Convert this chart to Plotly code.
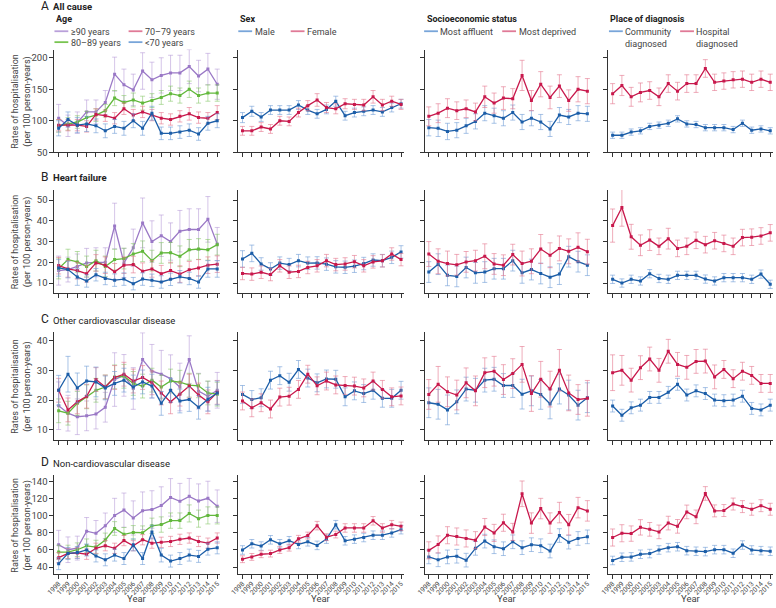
import plotly.graph_objects as go

W, H = 776, 608
years = list(range(1998, 2016))

# ---------------- A: All cause ----------------
a_age_ge90 = [104, 92, 97, 114, 114, 129, 174, 157, 149, 179, 165, 172, 176, 176, 186, 171, 182, 158]
a_age_80 = [92, 95, 98, 105, 109, 116, 136, 129, 133, 128, 132, 137, 143, 140, 150, 140, 144, 144]
a_age_70 = [93, 93, 93, 91, 110, 108, 104, 119, 109, 114, 109, 104, 102, 107, 111, 105, 104, 113]
a_age_lt70 = [88, 102, 93, 95, 92, 84, 91, 88, 100, 88, 112, 80, 80, 82, 85, 79, 96, 100]
a_sex_male = [105, 115, 106, 117, 117, 117, 125, 117, 111, 118, 131, 108, 113, 115, 117, 114, 121, 127]
a_sex_female = [84, 84, 90, 87, 100, 99, 113, 124, 133, 121, 119, 127, 126, 125, 138, 125, 131, 126]
a_ses_aff = [89, 88, 83, 85, 92, 99, 112, 108, 104, 113, 98, 104, 98, 87, 109, 106, 112, 111]
a_ses_dep = [107, 112, 120, 116, 119, 114, 138, 128, 136, 135, 172, 132, 158, 137, 155, 132, 150, 147]
a_place_comm = [77, 77, 82, 84, 91, 93, 96, 103, 95, 94, 89, 89, 89, 86, 96, 85, 87, 84]
a_place_hosp = [143, 156, 138, 145, 148, 138, 159, 147, 159, 159, 183, 161, 163, 165, 166, 161, 166, 161]

a_age_ge90_err = [22, 17, 17, 19, 19, 19, 27, 25, 25, 29, 28, 28, 28, 28, 27, 25, 25, 24]
a_age_80_err = [10, 10, 10, 10, 10, 10, 12, 11, 11, 11, 11, 11, 12, 12, 13, 12, 13, 13]
a_age_70_err = [9, 9, 9, 9, 9, 9, 9, 9, 9, 9, 9, 9, 9, 9, 10, 9, 9, 11]
a_age_lt70_err = [12, 12, 12, 12, 11, 11, 11, 11, 11, 11, 11, 10, 10, 10, 10, 10, 11, 11]
a_sex_male_err = [8, 8, 7, 7, 7, 7, 7, 7, 7, 7, 8, 7, 7, 7, 7, 7, 7, 7]
a_sex_female_err = [7, 7, 7, 7, 7, 7, 7, 8, 10, 8, 8, 8, 8, 9, 10, 9, 8, 8]
a_ses_aff_err = [13, 13, 13, 12, 12, 12, 12, 12, 12, 12, 12, 12, 12, 12, 12, 12, 12, 12]
a_ses_dep_err = [15, 15, 15, 14, 14, 14, 17, 16, 18, 16, 24, 16, 20, 18, 18, 17, 20, 20]
a_place_comm_err = [5, 5, 5, 5, 5, 5, 5, 5, 5, 5, 5, 5, 5, 5, 5, 5, 5, 5]
a_place_hosp_err = [16, 16, 15, 15, 14, 14, 14, 14, 14, 14, 14, 13, 13, 13, 13, 13, 13, 13]

# ---------------- B: Heart failure ----------------
b_age_ge90 = [16, 16.5, 18, 19.7, 20, 20, 37.5, 19.7, 27, 39, 30, 32.8, 30, 35, 35.8, 35.8, 40.7, 28.8]
b_age_80 = [17, 21.3, 20.2, 18, 20.8, 18, 21.3, 21.8, 24, 25.3, 20.8, 24.5, 24.6, 22.9, 26, 26.4, 26, 28.5]
b_age_70 = [18.4, 16.8, 16, 14.5, 19.7, 18.6, 15.4, 18.6, 18.9, 15.7, 16.8, 14.5, 16, 14.3, 16.4, 17.3, 18.6, 19.1]
b_age_lt70 = [17.3, 16.5, 12.9, 11, 14, 12.2, 11.4, 11.9, 9.7, 11.9, 11.3, 10.5, 11.8, 13, 12.2, 10.5, 16.8, 16.8]
b_sex_male = [21.6, 24.3, 19.2, 16.8, 19.6, 18.9, 20.8, 19.6, 19.7, 19.1, 17.8, 17.6, 18.1, 19.4, 21.1, 20.8, 22.4, 25]
b_sex_female = [14.6, 14.3, 15.2, 14.1, 18.3, 15.2, 15.6, 17.5, 18.3, 20.8, 18.9, 19.2, 20.3, 18.3, 20.2, 20.7, 24, 21.3]
b_ses_aff = [15.3, 19.1, 13.7, 13.2, 17.5, 14.9, 15.3, 16.9, 16.9, 20.8, 14.9, 16.5, 14.6, 12.8, 14.3, 22.7, 20.3, 18.6]
b_ses_dep = [24, 20.5, 19.4, 18.8, 20.2, 20.8, 22.9, 19.2, 18.6, 23.7, 19.4, 20.5, 26.4, 23.4, 26.7, 25.3, 27.2, 25.1]
b_place_comm = [11.8, 10, 11.8, 11, 14.5, 12.2, 11.8, 13.7, 13.7, 13.7, 11.9, 11, 12.6, 12.6, 12.6, 11.8, 14.3, 9.4]
b_place_hosp = [37.7, 46.4, 32.3, 28.2, 30.7, 27.7, 31.4, 26.7, 27.7, 30.6, 28.5, 30.4, 29.1, 27.7, 31.9, 32.1, 32.7, 34.2]

b_age_ge90_err = [7, 6, 6, 7, 7, 7, 11, 7, 9, 12, 10, 10, 9, 10, 10, 10, 11, 8]
b_age_80_err = [5, 5, 5, 5, 5, 5, 5, 5, 5, 5, 5, 5, 5, 5, 5, 5, 5, 5]
b_age_70_err = [4, 4, 4, 4, 4, 4, 4, 4, 4, 4, 4, 4, 4, 4, 4, 4, 4, 4]
b_age_lt70_err = [4, 4, 4, 3, 3, 3, 3, 3, 3, 3, 3, 3, 3, 3, 3, 3, 4, 4]
b_sex_male_err = [4, 4, 3, 3, 3, 3, 3, 3, 3, 3, 3, 3, 3, 3, 3, 3, 3, 3]
b_sex_female_err = [3, 3, 3, 3, 3, 3, 3, 3, 3, 3, 3, 3, 3, 3, 3, 3, 3, 3]
b_ses_aff_err = [5, 5, 5, 5, 5, 5, 5, 5, 5, 5, 5, 5, 5, 5, 5, 5, 5, 5]
b_ses_dep_err = [6, 6, 6, 5, 5, 5, 6, 5, 5, 5, 6, 6, 7, 6, 6, 6, 7, 6]
b_place_comm_err = [2, 2, 2, 2, 2, 2, 2, 2, 2, 2, 2, 2, 2, 2, 2, 2, 2, 2]
b_place_hosp_err = [8, 9, 6, 5, 5, 4, 5, 4, 4, 4, 4, 4, 4, 4, 4, 4, 4, 4]

# ---------------- C: Other cardiovascular disease ----------------
c_age_ge90 = [18.1, 15.6, 14.4, 14.7, 15.3, 17.6, 26.9, 28.3, 23.9, 33.6, 29.7, 28.7, 27.2, 24.4, 33.6, 23, 21.3, 23.3]
c_age_80 = [16.4, 15.6, 18.9, 21.1, 23.3, 24.4, 27.8, 28, 25.6, 24.7, 26.7, 24.4, 26.4, 26, 25, 24.8, 22.4, 22]
c_age_70 = [23.3, 16.7, 19.4, 21.3, 26.9, 24.4, 27.6, 28.7, 26.4, 27.6, 25.8, 22.4, 19.4, 22, 24.7, 21.7, 19.4, 22.6]
c_age_lt70 = [23.3, 28.7, 24.1, 26.4, 26.1, 24.1, 25.6, 26.7, 24.4, 26.1, 24.7, 18.9, 23.3, 19.7, 20.2, 17.6, 20.3, 22.4]
c_sex_male = [21.9, 20.2, 20.8, 26.7, 28.2, 26, 30.3, 27.4, 25.8, 27.1, 27, 21.1, 23.1, 22.2, 23.3, 20.6, 20.6, 23.3]
c_sex_female = [19.7, 17.4, 19.1, 17, 21, 21.3, 23.6, 28.7, 24.8, 26.4, 25.1, 24.9, 24.7, 24.1, 26.4, 23.6, 21.1, 21.4]
c_ses_aff = [19.1, 18.6, 16.7, 19.4, 23.7, 23.3, 26.7, 27, 24.9, 24.9, 22, 23.1, 21.9, 18.7, 23.7, 21.7, 18.3, 20.8]
c_ses_dep = [21.9, 25.3, 22.8, 21.7, 25.8, 23.1, 29.2, 29.7, 26.9, 28.9, 32, 22.2, 27, 23.7, 30, 22.4, 20.2, 20.6]
c_place_comm = [18, 14.9, 17.4, 18.3, 20.9, 20.9, 22.6, 25.3, 21.7, 23.1, 22.2, 20, 19.8, 20, 21.3, 17.2, 16.7, 18.3]
c_place_hosp = [29.2, 30, 26.7, 30.9, 33.8, 30, 36.4, 32, 31, 33, 33.1, 27.8, 30.3, 27.2, 29.7, 28.3, 25.6, 25.6]

c_age_ge90_err = [8, 6, 6, 5, 5, 5, 9, 7, 7, 9, 9, 8, 8, 8, 8, 6, 5, 6]
c_age_80_err = [4, 4, 4, 4, 4, 4, 4, 4, 4, 4, 4, 4, 4, 4, 4, 4, 4, 4]
c_age_70_err = [4, 4, 4, 4, 4, 4, 4, 4, 4, 4, 4, 4, 4, 4, 4, 4, 4, 4]
c_age_lt70_err = [5, 6, 5, 5, 5, 4, 4, 4, 4, 4, 4, 4, 4, 4, 4, 4, 4, 4]
c_sex_male_err = [3, 3, 3, 3, 3, 3, 3, 3, 3, 3, 3, 3, 3, 3, 3, 3, 3, 3]
c_sex_female_err = [3, 3, 3, 3, 3, 3, 3, 3, 3, 3, 3, 3, 3, 3, 3, 3, 3, 3]
c_ses_aff_err = [5, 5, 5, 4, 4, 4, 4, 4, 4, 4, 5, 5, 5, 5, 5, 5, 5, 5]
c_ses_dep_err = [5, 6, 5, 5, 5, 5, 5, 5, 5, 5, 6, 6, 6, 6, 7, 6, 5, 6]
c_place_comm_err = [2, 2, 2, 2, 2, 2, 2, 2, 2, 2, 2, 2, 2, 2, 2, 2, 2, 2]
c_place_hosp_err = [6, 5, 4, 4, 4, 4, 4, 4, 4, 4, 4, 4, 3, 3, 3, 3, 3, 3]

# ---------------- D: Non-cardiovascular disease ----------------
d_age_ge90 = [66, 60.3, 62.2, 82, 79.5, 88.3, 100.5, 106.7, 97.5, 106, 107.4, 112, 121.6, 117, 122.8, 117.4, 120.5, 111.3]
d_age_80 = [57.6, 57.6, 60.3, 64.9, 63.4, 71.8, 85.2, 78.3, 80.6, 80.2, 88.3, 89.8, 94.4, 94.4, 102.8, 96.7, 100.5, 100.5]
d_age_70 = [51, 56, 56.5, 55, 62, 65, 62, 71, 65, 72, 68, 69, 70, 72.5, 74, 70, 68, 74]
d_age_lt70 = [44, 56, 57, 60, 53, 48.5, 54, 50, 66, 50, 81, 54, 47, 50, 54, 52.5, 61, 62.5]
d_sex_male = [60, 67.3, 64.6, 71.9, 67.3, 70.8, 66.5, 69.6, 65.4, 72.7, 89.6, 70.8, 72.7, 74.6, 77.3, 77.3, 80, 83.8]
d_sex_female = [49.2, 51.9, 55, 55.8, 60, 62.7, 73.1, 76.9, 88.5, 75, 78.1, 85.8, 85.8, 85.8, 94.2, 85.8, 89.6, 87.7]
d_ses_aff = [51.9, 48.5, 51.9, 52.7, 48.1, 61.9, 70.4, 63.8, 61.5, 69.6, 62.7, 66.2, 65, 58.8, 76.9, 69.2, 73.5, 75.4]
d_ses_dep = [59.6, 66.5, 77.3, 75.8, 73.5, 71.5, 86.9, 80, 91.9, 81.2, 125.8, 91.5, 108.5, 91.5, 103.8, 89.6, 109.6, 105.8]
d_place_comm = [47.7, 51.5, 51.9, 55, 55.8, 60, 62.7, 63.8, 59.2, 58.5, 58.1, 60.4, 60.4, 56.2, 65.8, 60, 59.2, 58.5]
d_place_hosp = [74.6, 79.6, 79.2, 86.5, 84.2, 81.2, 91.5, 87.7, 104.6, 98.8, 126.2, 105.8, 106.2, 113.8, 110.8, 107.7, 111.9, 107.7]

d_age_ge90_err = [17, 15, 14, 16, 15, 15, 20, 20, 20, 22, 22, 22, 22, 21, 21, 20, 20, 19]
d_age_80_err = [8, 8, 8, 8, 8, 8, 8, 8, 8, 8, 9, 9, 9, 9, 10, 10, 10, 10]
d_age_70_err = [6, 6, 6, 6, 6, 6, 6, 6, 6, 6, 6, 6, 6, 6, 6, 6, 6, 6]
d_age_lt70_err = [7, 7, 7, 7, 7, 7, 7, 7, 7, 7, 8, 8, 7, 7, 7, 7, 7, 7]
d_sex_male_err = [5, 5, 5, 5, 5, 5, 5, 5, 5, 5, 5, 5, 5, 5, 5, 5, 5, 5]
d_sex_female_err = [4, 4, 4, 4, 4, 4, 4, 4, 5, 4, 4, 5, 5, 5, 5, 5, 5, 5]
d_ses_aff_err = [8, 8, 8, 8, 8, 8, 8, 8, 8, 8, 8, 8, 8, 8, 8, 8, 8, 8]
d_ses_dep_err = [10, 10, 10, 10, 10, 10, 10, 10, 10, 10, 15, 12, 12, 12, 12, 12, 12, 12]
d_place_comm_err = [5, 5, 5, 5, 5, 5, 5, 5, 5, 5, 5, 5, 5, 5, 5, 5, 5, 5]
d_place_hosp_err = [10, 10, 9, 9, 8, 8, 8, 8, 8, 8, 8, 7, 7, 7, 7, 7, 7, 7]

row_letters = ["A", "B", "C", "D"]
row_titles = ["All cause", "Heart failure", "Other cardiovascular disease", "Non-cardiovascular disease"]
col_titles = ["Age", "Sex", "Socioeconomic status", "Place of diagnosis"]
y_tickvals = [[50, 100, 150, 200], [10, 20, 30, 40, 50], [10, 20, 30, 40], [40, 60, 80, 100, 120, 140]]
y_ranges = [[50, 213], [5.4, 54.8], [6.7, 42.8], [31.6, 147.4]]

# colours
PURPLE, GREEN, RED, BLUE = "#9a78c6", "#62b83c", "#c8184c", "#1c5ea8"
ERR = {PURPLE: "rgba(178,150,214,0.55)", GREEN: "rgba(130,196,98,0.55)",
       RED: "rgba(228,118,142,0.6)", BLUE: "rgba(112,156,214,0.6)"}
LEG = {PURPLE: "#b9a0da", GREEN: "#78c450", RED: "#e07a97", BLUE: "#78a5d9"}

series_names = [
    [("≥90 years", PURPLE), ("80–89 years", GREEN), ("70–79 years", RED), ("<70 years", BLUE)],
    [("Male", BLUE), ("Female", RED)],
    [("Most affluent", BLUE), ("Most deprived", RED)],
    [("Community diagnosed", BLUE), ("Hospital diagnosed", RED)],
]

data = [
    [[(a_age_ge90, a_age_ge90_err), (a_age_80, a_age_80_err), (a_age_70, a_age_70_err), (a_age_lt70, a_age_lt70_err)],
     [(a_sex_male, a_sex_male_err), (a_sex_female, a_sex_female_err)],
     [(a_ses_aff, a_ses_aff_err), (a_ses_dep, a_ses_dep_err)],
     [(a_place_comm, a_place_comm_err), (a_place_hosp, a_place_hosp_err)]],
    [[(b_age_ge90, b_age_ge90_err), (b_age_80, b_age_80_err), (b_age_70, b_age_70_err), (b_age_lt70, b_age_lt70_err)],
     [(b_sex_male, b_sex_male_err), (b_sex_female, b_sex_female_err)],
     [(b_ses_aff, b_ses_aff_err), (b_ses_dep, b_ses_dep_err)],
     [(b_place_comm, b_place_comm_err), (b_place_hosp, b_place_hosp_err)]],
    [[(c_age_ge90, c_age_ge90_err), (c_age_80, c_age_80_err), (c_age_70, c_age_70_err), (c_age_lt70, c_age_lt70_err)],
     [(c_sex_male, c_sex_male_err), (c_sex_female, c_sex_female_err)],
     [(c_ses_aff, c_ses_aff_err), (c_ses_dep, c_ses_dep_err)],
     [(c_place_comm, c_place_comm_err), (c_place_hosp, c_place_hosp_err)]],
    [[(d_age_ge90, d_age_ge90_err), (d_age_80, d_age_80_err), (d_age_70, d_age_70_err), (d_age_lt70, d_age_lt70_err)],
     [(d_sex_male, d_sex_male_err), (d_sex_female, d_sex_female_err)],
     [(d_ses_aff, d_ses_aff_err), (d_ses_dep, d_ses_dep_err)],
     [(d_place_comm, d_place_comm_err), (d_place_hosp, d_place_hosp_err)]],
]

FONT = "Roboto, Arial, sans-serif"
TXT = "#333333"

col_px = [(47, 214.5), (233, 400.5), (421.5, 589), (607.5, 774)]
row_px = [(50, 153.5), (191.7, 295), (335, 443.3), (479.3, 579)]
X_RANGE = [1997.55, 2015.3]

def px_x(v):
    return v / W

def px_y(v):
    return 1 - v / H

fig = go.Figure()
layout = dict(width=W, height=H, margin=dict(l=0, r=0, t=0, b=0),
              paper_bgcolor="white", plot_bgcolor="white", showlegend=False,
              font=dict(family=FONT, size=9, color=TXT))

for r in range(4):
    for c in range(4):
        n = r * 4 + c + 1
        sfx = "" if n == 1 else str(n)
        for (name, col), (vals, errs) in zip(series_names[c], data[r][c]):
            fig.add_trace(go.Scatter(
                x=years, y=vals, name=name, mode="lines+markers",
                line=dict(color=col, width=1.3),
                marker=dict(symbol="square", size=3, color=col),
                error_y=dict(type="data", array=errs, color=ERR[col], thickness=1, width=2.5),
                xaxis="x" + sfx, yaxis="y" + sfx, hoverinfo="skip"))
        x0, x1 = col_px[c]
        y0, y1 = row_px[r]
        layout["xaxis" + sfx] = dict(
            domain=[px_x(x0), px_x(x1)], range=X_RANGE, anchor="y" + sfx,
            tickvals=years, ticktext=[str(y) for y in years],
            showticklabels=(r == 3), tickangle=-45, tickfont=dict(size=6.8, color="#444"),
            ticklabelstandoff=-2,
            ticks="outside", ticklen=4, tickcolor="#333", showline=True, linecolor="#333",
            linewidth=1, showgrid=False, zeroline=False)
        layout["yaxis" + sfx] = dict(
            domain=[px_y(y1), px_y(y0)], range=y_ranges[r], anchor="x" + sfx,
            tickvals=y_tickvals[r], showticklabels=(c == 0), tickfont=dict(size=9.5, color="#444"),
            ticks="outside", ticklen=4, tickcolor="#333", showline=True, linecolor="#333",
            linewidth=1, showgrid=False, zeroline=False)

annotations = []
shapes = []
title_y = [6, 178, 322, 466]
for r in range(4):
    annotations.append(dict(text=row_letters[r], x=px_x(31), y=px_y(title_y[r]), xref="paper", yref="paper",
                            xanchor="left", yanchor="middle", showarrow=False, font=dict(size=12, color="#222")))
    bold = r < 2
    annotations.append(dict(text=("<b>%s</b>" % row_titles[r]) if bold else row_titles[r],
                            x=px_x(44), y=px_y(title_y[r] + 1), xref="paper", yref="paper",
                            xanchor="left", yanchor="middle", showarrow=False, font=dict(size=9.5, color="#222")))
    ymid = (row_px[r][0] + row_px[r][1]) / 2
    annotations.append(dict(text="Rates of hospitalisation<br>(per 100 person-years)", x=px_x(14), y=px_y(ymid),
                            xref="paper", yref="paper", xanchor="center", yanchor="middle", textangle=-90,
                            showarrow=False, font=dict(size=9, color="#444")))

for c in range(4):
    annotations.append(dict(text="<b>%s</b>" % col_titles[c], x=px_x(col_px[c][0]), y=px_y(19), xref="paper",
                            yref="paper", xanchor="left", yanchor="middle", showarrow=False,
                            font=dict(size=9, color="#222")))
    annotations.append(dict(text="Year", x=px_x((col_px[c][0] + col_px[c][1]) / 2), y=px_y(603.5), xref="paper",
                            yref="paper", xanchor="center", yanchor="middle", showarrow=False,
                            font=dict(size=9.5, color="#444")))

legend_pos = [
    [(47, 31.5), (47, 42.5), (122, 31.5), (122, 42.5)],
    [(233, 31.5), (286, 31.5)],
    [(421, 31.5), (500, 31.5)],
    [(608, 31.5), (680, 31.5)],
]
legend_text = [
    ["≥90 years", "80–89 years", "70–79 years", "<70 years"],
    ["Male", "Female"],
    ["Most affluent", "Most deprived"],
    ["Community<br>diagnosed", "Hospital<br>diagnosed"],
]
for c in range(4):
    for (name, col), (lx, ly), txt in zip(series_names[c], legend_pos[c], legend_text[c]):
        shapes.append(dict(type="line", xref="paper", yref="paper", x0=px_x(lx), x1=px_x(lx + 14),
                           y0=px_y(ly), y1=px_y(ly), line=dict(color=LEG[col], width=1.8)))
        annotations.append(dict(text=txt, x=px_x(lx + 14.5), y=px_y(ly - 6), xref="paper", yref="paper",
                                xanchor="left", yanchor="top", align="left", showarrow=False,
                                font=dict(size=9, color="#444")))

layout["annotations"] = annotations
layout["shapes"] = shapes
fig.update_layout(**layout)
fig.write_html("out.html", config={"displayModeBar": False},
               post_script="document.body.style.margin='0';document.body.style.overflow='hidden';")
